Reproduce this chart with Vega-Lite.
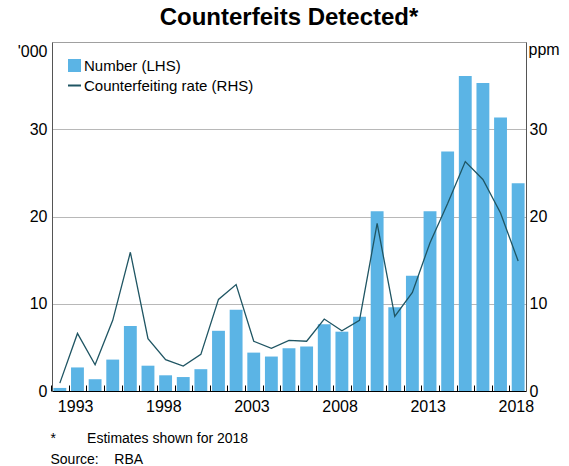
{
  "$schema": "https://vega.github.io/schema/vega-lite/v6.json",
  "width": 474,
  "height": 349,
  "autosize": {"type": "none"},
  "padding": {"left": 52, "top": 42, "right": 43, "bottom": 75},
  "background": "white",
  "title": {
    "text": "Counterfeits Detected*",
    "font": "Liberation Sans",
    "fontSize": 24,
    "fontWeight": "bold",
    "color": "black",
    "anchor": "middle",
    "offset": 11
  },
  "config": {
    "font": "Liberation Sans",
    "view": {"stroke": "#a0a0a0", "strokeWidth": 1}
  },
  "data": {
    "values": [
      {"year": 1992, "number": 0.35, "rate": 0.9},
      {"year": 1993, "number": 2.7, "rate": 6.6},
      {"year": 1994, "number": 1.35, "rate": 3.0},
      {"year": 1995, "number": 3.6, "rate": 8.1},
      {"year": 1996, "number": 7.45, "rate": 15.9},
      {"year": 1997, "number": 2.9, "rate": 6.0},
      {"year": 1998, "number": 1.8, "rate": 3.6},
      {"year": 1999, "number": 1.6, "rate": 2.85},
      {"year": 2000, "number": 2.5, "rate": 4.2},
      {"year": 2001, "number": 6.9, "rate": 10.5},
      {"year": 2002, "number": 9.3, "rate": 12.2},
      {"year": 2003, "number": 4.4, "rate": 5.7},
      {"year": 2004, "number": 3.95, "rate": 4.9},
      {"year": 2005, "number": 4.9, "rate": 5.8},
      {"year": 2006, "number": 5.1, "rate": 5.7},
      {"year": 2007, "number": 7.65, "rate": 8.25},
      {"year": 2008, "number": 6.8, "rate": 6.9},
      {"year": 2009, "number": 8.5, "rate": 8.1},
      {"year": 2010, "number": 20.6, "rate": 19.2},
      {"year": 2011, "number": 9.6, "rate": 8.55},
      {"year": 2012, "number": 13.2, "rate": 11.3},
      {"year": 2013, "number": 20.6, "rate": 17.0},
      {"year": 2014, "number": 27.45, "rate": 21.5},
      {"year": 2015, "number": 36.1, "rate": 26.3},
      {"year": 2016, "number": 35.3, "rate": 24.25},
      {"year": 2017, "number": 31.35, "rate": 20.4},
      {"year": 2018, "number": 23.8, "rate": 14.9}
    ]
  },
  "encoding": {
    "x": {
      "field": "year",
      "type": "ordinal",
      "scale": {"paddingInner": 0.27, "paddingOuter": 0.08},
      "axis": {
        "bandPosition": 0,
        "tickOffset": -2.3,
        "tickSize": -6,
        "tickColor": "#000000",
        "tickWidth": 1,
        "domainColor": "#000000",
        "domainWidth": 1,
        "labelAngle": 0,
        "labelFontSize": 16,
        "labelColor": "#000000",
        "labelPadding": 13,
        "labelOffset": 0,
        "labelExpr": "(datum.value - 1993) % 5 == 0 ? datum.label : ''",
        "labelOverlap": false,
        "grid": false,
        "title": ["*\u00a0\u00a0\u00a0\u00a0\u00a0\u00a0\u00a0\u00a0Estimates shown for 2018", "Source:\u00a0\u00a0\u00a0\u00a0RBA"],
        "titleFontSize": 14,
        "titleFontWeight": "normal",
        "titleColor": "#000000",
        "titleAnchor": "start",
        "titleAlign": "left",
        "titleX": -2,
        "titleY": 40,
        "titleLineHeight": 21
      }
    }
  },
  "layer": [
    {
      "mark": {"type": "bar", "color": "#5BB4E5"},
      "encoding": {
        "y": {
          "field": "number",
          "type": "quantitative",
          "scale": {"domain": [0, 40], "nice": false},
          "axis": {
            "orient": "left",
            "values": [0, 10, 20, 30],
            "labelFontSize": 16,
            "labelColor": "#000000",
            "labelPadding": 5,
            "tickSize": 0,
            "domainColor": "#555555",
            "grid": true,
            "gridColor": "#b8b8b8",
            "gridWidth": 1,
            "title": "'000",
            "titleFontSize": 16,
            "titleFontWeight": "normal",
            "titleColor": "#000000",
            "titleAngle": 0,
            "titleAlign": "right",
            "titleBaseline": "middle",
            "titleX": -5,
            "titleY": 9
          }
        },
        "color": {
          "datum": "Number (LHS)",
          "type": "nominal",
          "scale": {"range": ["#5BB4E5"]},
          "legend": {
            "orient": "none",
            "legendX": 15,
            "legendY": 16,
            "title": null,
            "symbolType": "square",
            "symbolSize": 169,
            "symbolStrokeWidth": 0,
            "labelFontSize": 15,
            "labelColor": "#000000",
            "labelOffset": 2,
            "labelLimit": 400
          }
        }
      }
    },
    {
      "mark": {"type": "line", "color": "#2E6271", "strokeWidth": 1.3},
      "encoding": {
        "y": {
          "field": "rate",
          "type": "quantitative",
          "scale": {"domain": [0, 40], "nice": false},
          "axis": {
            "orient": "right",
            "values": [0, 10, 20, 30],
            "labelFontSize": 16,
            "labelColor": "#000000",
            "labelPadding": 3,
            "tickSize": 0,
            "domainColor": "#555555",
            "grid": false,
            "title": "ppm",
            "titleFontSize": 16,
            "titleFontWeight": "normal",
            "titleColor": "#000000",
            "titleAngle": 0,
            "titleAlign": "left",
            "titleBaseline": "middle",
            "titleX": 2,
            "titleY": 7
          }
        },
        "stroke": {
          "datum": "Counterfeiting rate (RHS)",
          "type": "nominal",
          "scale": {"range": ["#1F5563"]},
          "legend": {
            "orient": "none",
            "legendX": 15,
            "legendY": 36,
            "title": null,
            "symbolType": "stroke",
            "symbolSize": 169,
            "symbolStrokeWidth": 2,
            "labelFontSize": 15,
            "labelColor": "#000000",
            "labelOffset": 2,
            "labelLimit": 400
          }
        }
      }
    }
  ],
  "resolve": {"scale": {"y": "independent"}}
}
